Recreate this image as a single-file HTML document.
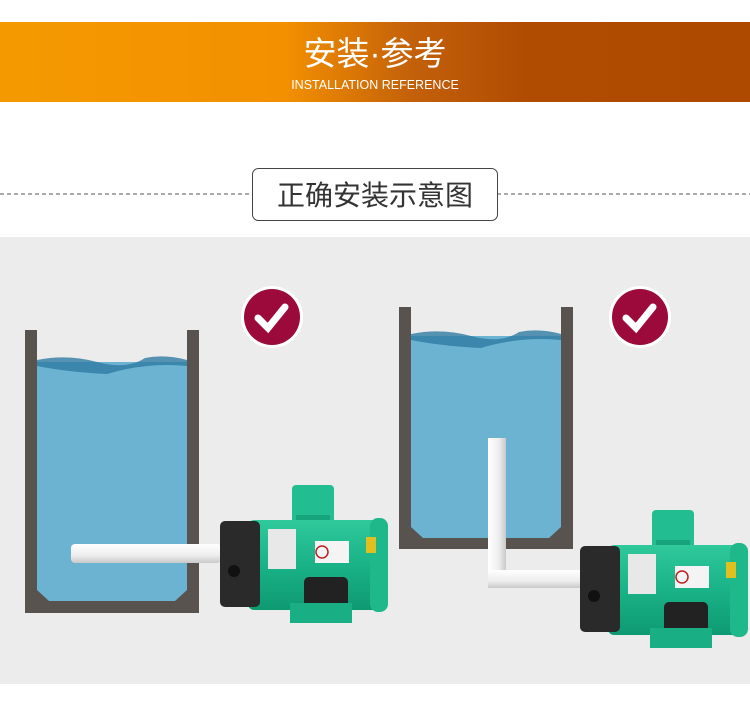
<!DOCTYPE html>
<html><head><meta charset="utf-8"><style>
body{margin:0;width:750px;height:718px;overflow:hidden;background:#fff;font-family:"Liberation Sans","Noto Sans CJK SC",sans-serif}
</style></head><body>
<svg width="750" height="718" viewBox="0 0 750 718" xmlns="http://www.w3.org/2000/svg" style="position:absolute;left:0;top:0">
<defs>
<linearGradient id="hd" x1="0" x2="1" y1="0" y2="0">
<stop offset="0" stop-color="#f49a00"/><stop offset="0.38" stop-color="#f39000"/><stop offset="0.55" stop-color="#c3600a"/><stop offset="0.7" stop-color="#b04c02"/><stop offset="1" stop-color="#ad4a00"/></linearGradient>
<linearGradient id="pipe" x1="0" x2="0" y1="0" y2="1"><stop offset="0" stop-color="#ffffff"/><stop offset="0.6" stop-color="#eeeeee"/><stop offset="1" stop-color="#c9c9c9"/></linearGradient>
<linearGradient id="pipev" x1="0" x2="1" y1="0" y2="0"><stop offset="0" stop-color="#ffffff"/><stop offset="0.6" stop-color="#eeeeee"/><stop offset="1" stop-color="#c9c9c9"/></linearGradient>
<linearGradient id="grn" x1="0" x2="0" y1="0" y2="1"><stop offset="0" stop-color="#2fc99c"/><stop offset="0.5" stop-color="#1ab287"/><stop offset="1" stop-color="#0e9a72"/></linearGradient>
<g id="pump">
<rect x="72" y="0" width="42" height="40" rx="4" fill="#22bd90"/>
<rect x="76" y="30" width="34" height="14" fill="#17a37b"/>
<rect x="28" y="35" width="132" height="90" rx="6" fill="url(#grn)"/>
<rect x="150" y="33" width="18" height="94" rx="8" fill="#1fb88a"/>
<rect x="0" y="36" width="40" height="86" rx="5" fill="#2a2a2a"/>
<circle cx="14" cy="86" r="6" fill="#111"/>
<rect x="48" y="44" width="28" height="40" fill="#e8e8e8"/>
<rect x="95" y="56" width="34" height="22" fill="#f4f4f4"/>
<circle cx="102" cy="67" r="6" fill="none" stroke="#c02020" stroke-width="1.5"/>
<rect x="146" y="52" width="10" height="16" fill="#e0c020"/>
<rect x="84" y="92" width="44" height="38" rx="5" fill="#222"/>
<rect x="70" y="118" width="62" height="20" fill="#1aae84"/>
</g>
</defs>
<rect x="0" y="22" width="750" height="80" fill="url(#hd)"/>
<text x="375" y="65" text-anchor="middle" font-size="33" fill="#fff">安装·参考</text>
<text x="375" y="89" text-anchor="middle" font-size="12.5" fill="#fff">INSTALLATION REFERENCE</text>
<line x1="0" y1="194" x2="750" y2="194" stroke="#555" stroke-dasharray="4,3" stroke-width="1"/>
<rect x="252.5" y="168.5" width="245" height="52" rx="6" fill="#fff" stroke="#444"/>
<text x="375" y="205" text-anchor="middle" font-size="28" fill="#333">正确安装示意图</text>
<rect x="0" y="237" width="750" height="447" fill="#ececec"/>
<!-- tank1 -->
<rect x="37" y="362" width="150" height="240" fill="#6cb3d2"/>
<path d="M37 360 q30 -6 60 2 q30 8 48 -4 q20 -4 42 2 l0 6 q-40 -4 -80 8 q-40 -2 -70 -8z" fill="#2f7aa3" opacity="0.8"/>
<path d="M25 330h12v260l12 11h126l12-11V330h12v283H25z" fill="#59534f"/>
<rect x="71" y="544" width="150" height="19" rx="4" fill="url(#pipe)"/>
<!-- tank2 -->
<rect x="411" y="336" width="150" height="202" fill="#6cb3d2"/>
<path d="M411 334 q30 -6 60 2 q30 8 48 -4 q20 -4 42 2 l0 6 q-40 -4 -80 8 q-40 -2 -70 -8z" fill="#2f7aa3" opacity="0.8"/>
<path d="M399 307h12v220l12 11h126l12-11V307h12v242H399z" fill="#59534f"/>
<rect x="488" y="438" width="18" height="150" fill="url(#pipev)"/>
<rect x="488" y="570" width="95" height="18" fill="url(#pipe)"/>
<!-- checks -->
<circle cx="272" cy="317" r="31" fill="#fff"/><circle cx="272" cy="317" r="28" fill="#9c0a3b"/>
<path d="M258 318l10 10 17-21" stroke="#fff" stroke-width="7" fill="none" stroke-linecap="round"/>
<circle cx="640" cy="317" r="31" fill="#fff"/><circle cx="640" cy="317" r="28" fill="#9c0a3b"/>
<path d="M626 318l10 10 17-21" stroke="#fff" stroke-width="7" fill="none" stroke-linecap="round"/>
<use href="#pump" x="220" y="485"/>
<use href="#pump" x="580" y="510"/>
</svg>
</body></html>
